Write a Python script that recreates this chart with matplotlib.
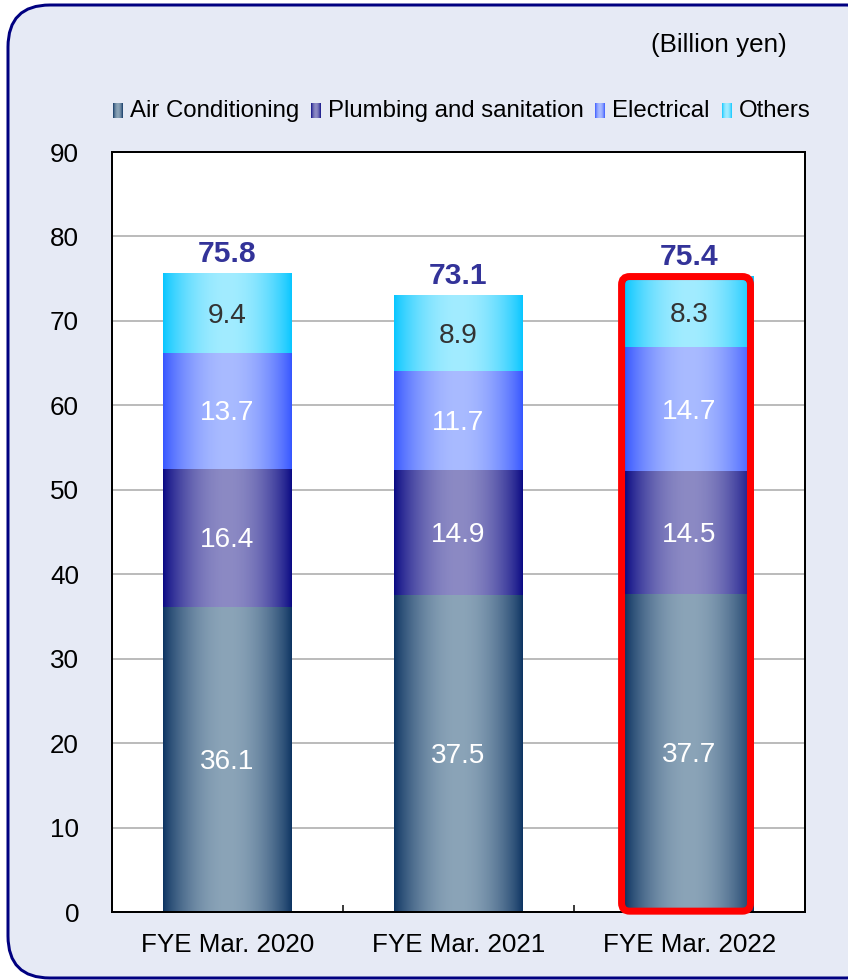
import numpy as np
import matplotlib.pyplot as plt
from matplotlib.patches import FancyBboxPatch
from matplotlib.colors import to_rgb

plt.rcParams['font.family'] = ['Liberation Sans', 'DejaVu Sans']

years = ['FYE Mar. 2020', 'FYE Mar. 2021', 'FYE Mar. 2022']
segments = ['Air Conditioning', 'Plumbing and sanitation', 'Electrical', 'Others']
air_cond = [36.1, 37.5, 37.7]
plumbing = [16.4, 14.9, 14.5]
electrical = [13.7, 11.7, 14.7]
others = [9.4, 8.9, 8.3]
totals = [75.8, 73.1, 75.4]

series = [air_cond, plumbing, electrical, others]
# (edge colour, centre colour) of each horizontal gradient
shades = [('#0d3462', '#8ba4b8'),
          ('#0a0a84', '#8c8ac4'),
          ('#3656ff', '#a9bbff'),
          ('#08c6ff', '#a2ecff')]
label_colors = ['white', 'white', 'white', '#333333']
bg = '#e6eaf5'


def gradient(edge, centre, n=128):
    t = np.linspace(0, 1, n)
    p = np.sin(np.pi * t) ** 0.8
    e, c = np.array(to_rgb(edge)), np.array(to_rgb(centre))
    row = e[None, :] + (c - e)[None, :] * p[:, None]
    return row[None, :, :]


fig = plt.figure(figsize=(848 / 72, 980 / 72), dpi=72)
fig.patch.set_facecolor('white')

# backdrop in pixel units
back = fig.add_axes([0, 0, 1, 1], zorder=-1)
back.axis('off')
back.add_patch(FancyBboxPatch((8, 5), 880, 973, boxstyle='round,pad=0,rounding_size=42',
                              facecolor=bg, edgecolor='#000080', linewidth=3, zorder=0))
back.text(787, 45, '(Billion yen)', fontsize=26, ha='right', va='center')

leg_x = [130, 328, 612, 739]
for name, (edge, centre), x in zip(segments, shades, leg_x):
    back.imshow(gradient(edge, centre), extent=[x - 17, x - 7, 118, 103],
                aspect='auto', zorder=3)
    back.text(x, 111, name, fontsize=24, ha='left', va='center')
back.set_xlim(0, 848)
back.set_ylim(980, 0)

ax = fig.add_axes([112 / 848, 68 / 980, 693 / 848, 760 / 980])
ax.set_facecolor('white')

x = np.arange(len(years))
width = 0.558
bottom = np.zeros(len(years))
for vals, (edge, centre), lc in zip(series, shades, label_colors):
    img = gradient(edge, centre)
    for i, v in enumerate(vals):
        ax.imshow(img, extent=[x[i] - width / 2, x[i] + width / 2, bottom[i], bottom[i] + v],
                  aspect='auto', interpolation='bilinear', zorder=2)
        ax.text(x[i], bottom[i] + v / 2 - 0.3, f'{v:.1f}', fontsize=28, color=lc,
                ha='center', va='center', zorder=4)
    bottom += np.array(vals)

for i, t in enumerate(totals):
    ax.annotate(f'{t:.1f}', (x[i], bottom[i]), xytext=(0, 6), textcoords='offset points',
                ha='center', va='bottom', fontsize=30, fontweight='bold', color='#333399')

# highlight on the latest year
k = 2
ax.add_patch(FancyBboxPatch((x[k] - width / 2 - 0.015, 0.1), width, bottom[k] - 0.1 + 0.05,
                            boxstyle='round,pad=0,rounding_size=0.035', mutation_aspect=27.4,
                            facecolor='none', edgecolor='#ff0000', linewidth=7, zorder=5,
                            clip_on=False))

ax.set_xlim(-0.5, 2.5)
ax.set_ylim(0, 90)
ax.set_yticks(range(0, 91, 10))
ax.set_xticks(x)
ax.set_xticklabels(years)
ax.set_xticks([0.5, 1.5], minor=True)
ax.tick_params(axis='both', which='major', length=0, labelsize=26)
ax.tick_params(axis='y', pad=33)
ax.tick_params(axis='x', pad=21)
ax.tick_params(axis='x', which='minor', direction='in', length=7, width=1.5)
ax.yaxis.grid(True, color='#a6a6a6', linewidth=1.5, zorder=0)
ax.set_axisbelow(True)
for s in ax.spines.values():
    s.set_linewidth(2)
    s.set_color('black')

fig.savefig('out.png', dpi=72, facecolor=fig.get_facecolor())
